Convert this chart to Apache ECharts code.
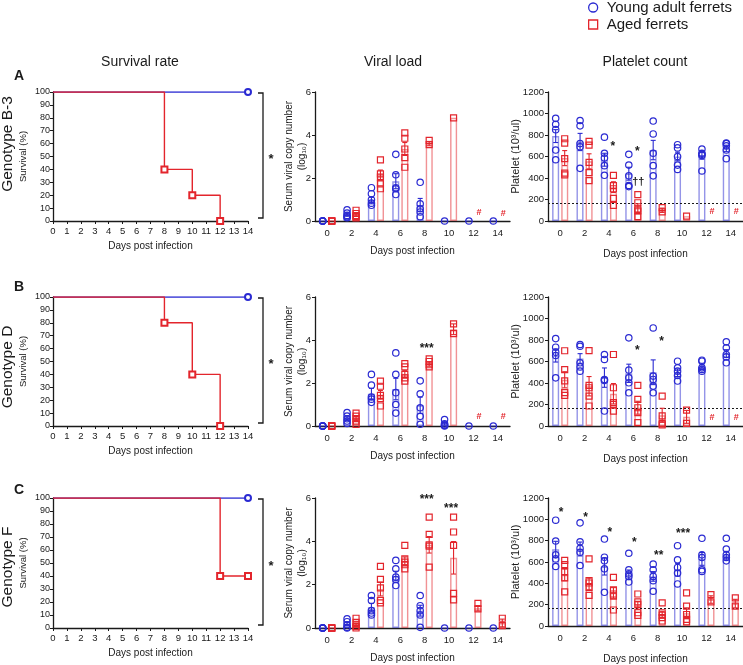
<!DOCTYPE html>
<html>
<head>
<meta charset="utf-8">
<script src="https://cdn.jsdelivr.net/npm/echarts@6/dist/echarts.min.js"></script>
<style>
html,body{margin:0;padding:0;background:#fff}
#main{width:743px;height:665px}
</style>
</head>
<body>
<div id="main"></div>
<script>
(function(){
    var chartDom = document.getElementById("main");
    var chart = echarts.init(chartDom);

    /**************** data ****************/
    var days = ['0', '2', '4', '6', '8', '10', '12', '14'];
    var plateletCutoff = 165;

    // --- genotype B-3 ---
    var survYoungA = [[0, 100], [14, 100]];
    var survAgedA = [[0, 100], [8, 40], [10, 20], [12, 0]];
    var viralYoungMeanA = [0, 0.3, 0.95, 1.85, 0.75, 0, 0, 0];
    var viralYoungSemA = [0, 0.07, 0.15, 0.35, 0.3, 0, 0, 0];
    var viralYoungPtsA = [[0, 0, 0, 0, 0], [0.52, 0.37, 0.26, 0.2, 0.15], [1.55, 1.27, 0.99, 0.83, 0.73], [3.1, 2.15, 1.55, 1.5, 1.23], [1.8, 0.8, 0.57, 0.42, 0.2], [0], [0], [0]];
    var viralAgedMeanA = [0, 0.3, 2.15, 3.35, 3.6, 4.8, null, null];
    var viralAgedSemA = [0, 0.08, 0.22, 0.3, 0.1, 0, 0, 0];
    var viralAgedPtsA = [[0, 0, 0, 0, 0], [0.5, 0.35, 0.25, 0.2, 0.15], [2.84, 2.19, 2.04, 1.73, 1.5], [4.1, 3.85, 3.35, 2.95, 2.5], [3.75, 3.55], [4.8], [], []];
    var viralNotesA = [];
    var viralHashA = [[12, 0.4], [14, 0.35]];
    var pltYoungMeanA = [790, 735, 570, 440, 660, 600, 615, 675];
    var pltYoungSemA = [60, 80, 60, 60, 90, 40, 40, 30];
    var pltYoungPtsA = [[955, 900, 850, 660, 570], [935, 885, 720, 690, 490], [780, 630, 585, 515, 425], [620, 520, 420, 330, 320], [930, 810, 630, 515, 420], [710, 680, 600, 520, 480], [670, 630, 620, 610, 465], [725, 720, 700, 660, 580]];
    var pltAgedMeanA = [585, 555, 315, 120, 100, 45, null, null];
    var pltAgedSemA = [70, 70, 50, 40, 20, 0, 0, 0];
    var pltAgedPtsA = [[765, 725, 580, 445, 430], [740, 705, 545, 450, 375], [425, 330, 300, 210, 145], [245, 170, 110, 95, 40], [125, 85], [45], [], []];
    var pltNotesA = [[4, 722, '*'], [6, 669, '*'], [6, 361, '\u2020\u2020']];
    var pltHashA = [[12, 85], [14, 85]];

    // --- genotype D ---
    var survYoungB = [[0, 100], [14, 100]];
    var survAgedB = [[0, 100], [8, 80], [10, 40], [12, 0]];
    var viralYoungMeanB = [0, 0.35, 1.5, 1.72, 0.96, 0.1, 0, 0];
    var viralYoungSemB = [0, 0.08, 0.25, 0.5, 0.38, 0.06, 0, 0];
    var viralYoungPtsB = [[0, 0, 0, 0, 0], [0.62, 0.46, 0.34, 0.23, 0.12], [2.4, 1.9, 1.35, 1.25, 1.1], [3.4, 2.4, 1.55, 1.0, 0.6], [2.1, 1.5, 0.85, 0.45, 0.08], [0.3, 0.1, 0.05, 0.02, 0], [0], [0]];
    var viralAgedMeanB = [0, 0.35, 1.45, 2.42, 2.88, 4.5, null, null];
    var viralAgedSemB = [0, 0.09, 0.2, 0.15, 0.1, 0.25, 0, 0];
    var viralAgedPtsB = [[0, 0, 0, 0, 0], [0.6, 0.46, 0.34, 0.23, 0.08], [2.09, 1.85, 1.42, 1.27, 0.93], [2.9, 2.75, 2.4, 2.24, 2.09], [3.12, 3.0, 2.85, 2.75], [4.75, 4.3], [], []];
    var viralNotesB = [[8, 3.75, '***']];
    var viralHashB = [[12, 0.43], [14, 0.43]];
    var pltYoungMeanB = [655, 628, 450, 490, 500, 495, 550, 675];
    var pltYoungSemB = [60, 45, 90, 85, 115, 35, 25, 35];
    var pltYoungPtsB = [[813, 733, 687, 656, 448], [758, 742, 588, 550, 510], [665, 619, 433, 424, 139], [820, 520, 448, 402, 309], [912, 464, 433, 371, 309], [603, 541, 510, 470, 418], [612, 603, 541, 526, 510], [783, 727, 665, 643, 588]];
    var pltAgedMeanB = [430, 370, 300, 170, 100, 85, null, null];
    var pltAgedSemB = [75, 90, 95, 60, 65, 60, 0, 0];
    var pltAgedPtsB = [[700, 525, 420, 310, 285], [702, 377, 356, 278, 186], [665, 356, 217, 201, 139], [377, 247, 170, 124, 31], [278, 95, 25, 10], [148, 25], [], []];
    var pltNotesB = [[6, 727, '*'], [8, 813, '*']];
    var pltHashB = [[12, 80], [14, 80]];

    // --- genotype F ---
    var survYoungC = [[0, 100], [14, 100]];
    var survAgedC = [[0, 100], [12, 40], [14, 40]];
    var viralYoungMeanC = [0, 0.18, 0.96, 2.4, 0.8, 0, 0, 0];
    var viralYoungSemC = [0, 0.08, 0.18, 0.22, 0.25, 0, 0, 0];
    var viralYoungPtsC = [[0, 0, 0, 0, 0], [0.42, 0.29, 0.15, 0.03, 0], [1.5, 1.27, 0.8, 0.69, 0.6], [3.12, 2.73, 2.35, 2.24, 1.96], [1.5, 1.03, 0.8, 0.6, 0.03], [0], [0], [0]];
    var viralAgedMeanC = [0, 0.15, 1.8, 3.1, 3.84, 3.24, 0.91, 0.23];
    var viralAgedSemC = [0, 0.08, 0.32, 0.18, 0.38, 0.75, 0.12, 0.18];
    var viralAgedPtsC = [[0, 0, 0, 0, 0], [0.45, 0.26, 0.15, 0.06, 0], [2.84, 2.24, 1.85, 1.27, 1.16], [3.81, 3.19, 3.04, 2.92, 2.73], [5.12, 4.32, 3.84, 3.78, 2.81], [5.12, 4.43, 3.81, 1.6, 1.3], [1.14, 0.88], [0.45, 0.11]];
    var viralNotesC = [[8, 6.08, '***'], [10, 5.66, '***']];
    var viralHashC = [];
    var pltYoungMeanC = [719, 722, 558, 480, 465, 527, 629, 660];
    var pltYoungSemC = [75, 65, 80, 45, 45, 60, 60, 40];
    var pltYoungPtsC = [[992, 797, 667, 629, 558], [967, 790, 729, 691, 567], [815, 645, 611, 536, 316], [682, 527, 487, 465, 412], [580, 527, 465, 425, 326], [753, 620, 549, 496, 394], [822, 667, 642, 527, 512], [822, 722, 667, 642, 611]];
    var pltAgedMeanC = [480, 394, 310, 192, 108, 120, 248, 210];
    var pltAgedSemC = [55, 55, 50, 35, 30, 50, 35, 40];
    var pltAgedPtsC = [[615, 575, 510, 450, 320], [629, 425, 403, 363, 288], [456, 340, 300, 280, 150], [300, 226, 202, 124, 99], [217, 124, 102, 78, 47], [310, 186, 108, 62, 40], [295, 226], [264, 186]];
    var pltNotesC = [[0, 1090, '*'], [2, 1045, '*'], [4, 905, '*'], [6, 812, '*'], [8, 688, '**'], [10, 890, '***']];
    var pltHashC = [];

    /**************** styling ****************/
    var FONT = '"Liberation Sans", Arial, sans-serif';
    var INK = '#1a1a1a';
    var BLUE = '#2a2ad2', RED = '#e3252c';
    var BLUE_BAR = 'rgba(42,42,210,0.5)', RED_BAR = 'rgba(227,37,44,0.5)';
    var OFF = 4.5;   // half distance between the two bar centres
    var rowTop = [92, 297, 498];
    var rowH = [129, 129, 130];

    var rows = [
        {surv: [survYoungA, survAgedA], vy: [viralYoungMeanA, viralYoungSemA, viralYoungPtsA], va: [viralAgedMeanA, viralAgedSemA, viralAgedPtsA], vn: viralNotesA, vh: viralHashA,
         py: [pltYoungMeanA, pltYoungSemA, pltYoungPtsA], pa: [pltAgedMeanA, pltAgedSemA, pltAgedPtsA], pn: pltNotesA, ph: pltHashA},
        {surv: [survYoungB, survAgedB], vy: [viralYoungMeanB, viralYoungSemB, viralYoungPtsB], va: [viralAgedMeanB, viralAgedSemB, viralAgedPtsB], vn: viralNotesB, vh: viralHashB,
         py: [pltYoungMeanB, pltYoungSemB, pltYoungPtsB], pa: [pltAgedMeanB, pltAgedSemB, pltAgedPtsB], pn: pltNotesB, ph: pltHashB},
        {surv: [survYoungC, survAgedC], vy: [viralYoungMeanC, viralYoungSemC, viralYoungPtsC], va: [viralAgedMeanC, viralAgedSemC, viralAgedPtsC], vn: viralNotesC, vh: viralHashC,
         py: [pltYoungMeanC, pltYoungSemC, pltYoungPtsC], pa: [pltAgedMeanC, pltAgedSemC, pltAgedPtsC], pn: pltNotesC, ph: pltHashC}
    ];

    var option = {
        animation: false,
        backgroundColor: '#fff',
        textStyle: {fontFamily: FONT},
        grid: [], xAxis: [], yAxis: [], series: [], graphic: [],
        legend: {
            orient: 'vertical', left: 588, top: 0, padding: 0, itemWidth: 9, itemHeight: 9, itemGap: 2,
            textStyle: {fontSize: 15, color: INK, fontFamily: FONT, padding: [0, 0, 0, 4]},
            data: [
                {name: 'Young adult ferrets', icon: 'circle', itemStyle: {color: '#fff', borderColor: BLUE, borderWidth: 1.3}},
                {name: 'Aged ferrets', icon: 'rect', itemStyle: {color: '#fff', borderColor: RED, borderWidth: 1.3}}
            ]
        }
    };

    function axisCommon(){
        return {
            axisLine: {show: true, onZero: false, lineStyle: {color: INK, width: 1.3}},
            axisTick: {show: true, length: 3, lineStyle: {color: INK, width: 1}},
            axisLabel: {color: INK, fontSize: 9.5, margin: 4, formatter: function(v){ return String(v); }},
            splitLine: {show: false},
            nameLocation: 'middle',
            nameMoveOverlap: false,
            nameTextStyle: {color: INK, fontSize: 10}
        };
    }

    function ptData(means, pts, side){
        var out = [];
        pts.forEach(function(arr, i){ arr.forEach(function(v){ out.push([i, v, side]); }); });
        return out;
    }
    function errData(means, sems, side){
        var out = [];
        means.forEach(function(m, i){
            if (m != null && sems[i] > 0) out.push([i, Math.max(0, m - sems[i]), m + sems[i], side]);
        });
        return out;
    }

    function pointsSeries(g, young, aged){
        return {
            type: 'custom', xAxisIndex: g, yAxisIndex: g, z: 6, clip: false,
            data: ptData(young[0], young[2], -1).concat(ptData(aged[0], aged[2], 1)),
            renderItem: function(params, api){
                var side = api.value(2);
                var c = api.coord([api.value(0), api.value(1)]);
                var x = c[0] + side * OFF, y = c[1];
                if (side < 0) {
                    return {type: 'circle', shape: {cx: x, cy: y, r: 3.2}, style: {fill: 'none', stroke: BLUE, lineWidth: 1.2}};
                }
                return {type: 'rect', shape: {x: x - 3, y: y - 3, width: 6, height: 6}, style: {fill: 'none', stroke: RED, lineWidth: 1.2}};
            }
        };
    }
    function errSeries(g, young, aged){
        return {
            type: 'custom', xAxisIndex: g, yAxisIndex: g, z: 5, clip: false,
            data: errData(young[0], young[1], -1).concat(errData(aged[0], aged[1], 1)),
            renderItem: function(params, api){
                var side = api.value(3);
                var lo = api.coord([api.value(0), api.value(1)]);
                var hi = api.coord([api.value(0), api.value(2)]);
                var x = lo[0] + side * OFF;
                var st = {stroke: side < 0 ? BLUE : RED, lineWidth: 1.1};
                return {type: 'group', children: [
                    {type: 'line', shape: {x1: x, y1: lo[1], x2: x, y2: hi[1]}, style: st},
                    {type: 'line', shape: {x1: x - 2.5, y1: hi[1], x2: x + 2.5, y2: hi[1]}, style: st},
                    {type: 'line', shape: {x1: x - 2.5, y1: lo[1], x2: x + 2.5, y2: lo[1]}, style: st}
                ]};
            }
        };
    }
    function noteSeries(g, notes, color, font, dx, dy){
        return {
            type: 'custom', xAxisIndex: g, yAxisIndex: g, z: 7, clip: false,
            data: notes.map(function(n){ return [days.indexOf(String(n[0])), n[1]]; }),
            renderItem: function(params, api){
                var c = api.coord([api.value(0), api.value(1)]);
                var txt = notes[params.dataIndex][2] || '#';
                return {type: 'text', x: c[0] + dx, y: c[1] + dy,
                    style: {text: txt, fill: color, font: font, textAlign: 'center', textVerticalAlign: 'middle'}};
            }
        };
    }
    function barSeries(g, name, means, border){
        return {
            type: 'bar', name: name, xAxisIndex: g, yAxisIndex: g, data: means,
            barWidth: 7, barGap: '30%', z: 2,
            itemStyle: {color: 'rgba(255,255,255,0)', borderColor: border, borderWidth: 1.4}
        };
    }

    var letters = ['A', 'B', 'C'];
    var genotypes = ['Genotype B-3', 'Genotype D', 'Genotype F'];
    var letterY = [76, 287, 490];
    var genoY = [144, 367, 567];

    rows.forEach(function(r, k){
        var top = rowTop[k], h = rowH[k];
        var gs = k * 3, gv = k * 3 + 1, gp = k * 3 + 2;
        option.grid.push({left: 53, top: top, width: 195, height: h});
        option.grid.push({left: 315, top: top, width: 195, height: h});
        option.grid.push({left: 548, top: top, width: 195, height: h});

        // survival axes
        var xs = axisCommon();
        Object.assign(xs, {gridIndex: gs, type: 'value', min: 0, max: 14, interval: 1, name: 'Days post infection', nameGap: 20});
        xs.axisLabel = {color: INK, fontSize: 9.5, margin: 5};
        var ys = axisCommon();
        Object.assign(ys, {gridIndex: gs, type: 'value', min: 0, max: 100, interval: 10, name: 'Survival (%)', nameGap: 25});
        ys.axisLabel = {color: INK, fontSize: 9, margin: 3};
        ys.nameTextStyle = {color: INK, fontSize: 9.5};

        // viral axes
        var xv = axisCommon();
        Object.assign(xv, {gridIndex: gv, type: 'category', data: days, name: 'Days post infection', nameGap: 25});
        xv.axisTick = {show: false};
        xv.axisLabel = {color: INK, fontSize: 9.5, margin: 7};
        var yv = axisCommon();
        Object.assign(yv, {gridIndex: gv, type: 'value', min: 0, max: 6, interval: 2, name: 'Serum viral copy number\n(log\u2081\u2080)', nameGap: 6});
        yv.nameTextStyle = {color: INK, fontSize: 10, lineHeight: 13};

        // platelet axes
        var xp = axisCommon();
        Object.assign(xp, {gridIndex: gp, type: 'category', data: days, name: 'Days post infection', nameGap: 28});
        xp.axisTick = {show: false};
        xp.axisLabel = {color: INK, fontSize: 9.5, margin: 7};
        var yp = axisCommon();
        Object.assign(yp, {gridIndex: gp, type: 'value', min: 0, max: 1200, interval: 200, name: 'Platelet (10\u00b3/ul)', nameGap: 27});
        yp.nameTextStyle = {color: INK, fontSize: 11};

        option.xAxis.push(xs, xv, xp);
        option.yAxis.push(ys, yv, yp);

        // survival curves
        option.series.push({
            type: 'line', name: 'Young adult ferrets', xAxisIndex: gs, yAxisIndex: gs, data: r.surv[0], step: 'end', z: 3,
            symbol: function(v, p){ return p.dataIndex === 0 ? 'none' : 'emptyCircle'; },
            symbolSize: 6, lineStyle: {color: BLUE, width: 1.4}, itemStyle: {color: BLUE, borderWidth: 1.4}
        });
        option.series.push({
            type: 'line', name: 'Aged ferrets', xAxisIndex: gs, yAxisIndex: gs, data: r.surv[1], step: 'end', z: 4,
            symbol: function(v, p){ return p.dataIndex === 0 ? 'none' : 'emptyRect'; },
            symbolSize: 6, lineStyle: {color: RED, width: 1.4}, itemStyle: {color: RED, borderWidth: 1.4}
        });
        // significance bracket for the survival curves
        option.series.push({
            type: 'custom', xAxisIndex: gs, yAxisIndex: gs, clip: false, z: 5,
            data: [[14, 100, 0]],
            renderItem: function(params, api){
                var t = api.coord([api.value(0), api.value(1)]);
                var b = api.coord([api.value(0), api.value(2)]);
                var x0 = t[0] + 10, x1 = t[0] + 15;
                return {type: 'group', children: [
                    {type: 'polyline', shape: {points: [[x0, t[1] + 1], [x1, t[1] + 1], [x1, b[1] - 3], [x0, b[1] - 3]]},
                        style: {fill: 'none', stroke: INK, lineWidth: 1.3}},
                    {type: 'text', x: x1 + 8, y: (t[1] + b[1]) / 2 + 3,
                        style: {text: '*', fill: INK, font: 'bold 13px ' + FONT, textAlign: 'center', textVerticalAlign: 'middle'}}
                ]};
            }
        });

        // viral load
        option.series.push(barSeries(gv, 'Young adult ferrets', r.vy[0], BLUE_BAR));
        option.series.push(barSeries(gv, 'Aged ferrets', r.va[0], RED_BAR));
        option.series.push(errSeries(gv, r.vy, r.va));
        option.series.push(pointsSeries(gv, r.vy, r.va));
        option.series.push(noteSeries(gv, r.vn, INK, 'bold 12px ' + FONT, 2, 3));
        option.series.push(noteSeries(gv, r.vh, RED, 'bold 9px ' + FONT, OFF + 1, 0));

        // platelet count
        var pb = barSeries(gp, 'Aged ferrets', r.pa[0], RED_BAR);
        pb.markLine = {
            silent: true, symbol: 'none', label: {show: false},
            lineStyle: {color: INK, type: [2, 2], width: 1},
            data: [{yAxis: plateletCutoff}]
        };
        option.series.push(barSeries(gp, 'Young adult ferrets', r.py[0], BLUE_BAR));
        option.series.push(pb);
        option.series.push(errSeries(gp, r.py, r.pa));
        option.series.push(pointsSeries(gp, r.py, r.pa));
        option.series.push(noteSeries(gp, r.pn.filter(function(n){ return n[2] !== '\u2020\u2020'; }), INK, 'bold 12px ' + FONT, k === 2 ? 1 : 4, 3));
        option.series.push(noteSeries(gp, r.pn.filter(function(n){ return n[2] === '\u2020\u2020'; }), INK, 'bold 11px ' + FONT, 5, 0));
        option.series.push(noteSeries(gp, r.ph, RED, 'bold 9px ' + FONT, OFF + 1, 0));

        option.graphic.push({type: 'text', x: 19, y: letterY[k],
            style: {text: letters[k], font: 'bold 14px ' + FONT, fill: INK, textAlign: 'center', textVerticalAlign: 'middle'}});
        option.graphic.push({type: 'text', x: 8, y: genoY[k], rotation: Math.PI / 2,
            style: {text: genotypes[k], font: '15.5px ' + FONT, fill: INK, textAlign: 'center', textVerticalAlign: 'middle'}});
    });

    var colTitles = [['Survival rate', 140], ['Viral load', 393], ['Platelet count', 645]];
    colTitles.forEach(function(t){
        option.graphic.push({type: 'text', x: t[1], y: 62,
            style: {text: t[0], font: '14px ' + FONT, fill: INK, textAlign: 'center', textVerticalAlign: 'middle'}});
    });

    if (option && typeof option === "object") {
        chart.setOption(option, true);
    }
})();
</script>
</body>
</html>
